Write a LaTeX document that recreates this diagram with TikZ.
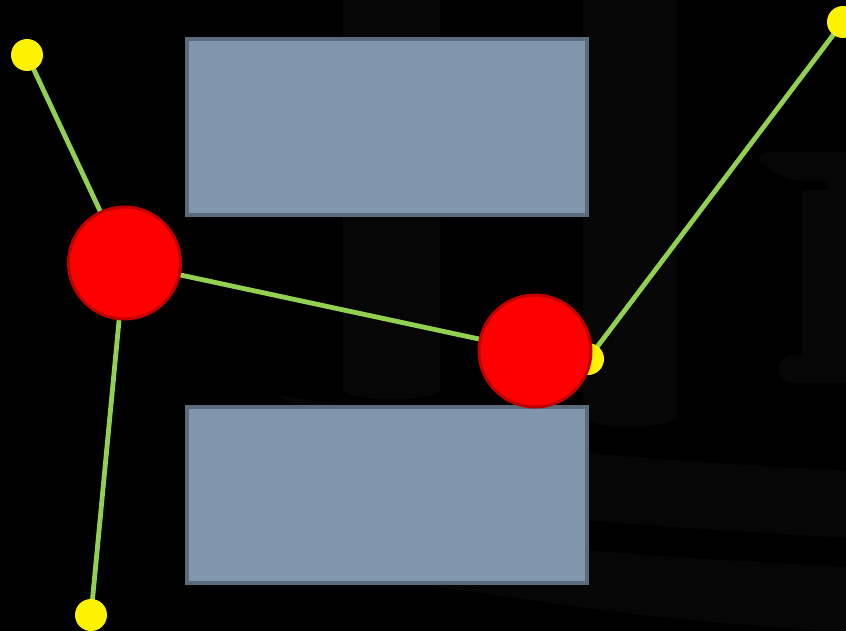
\documentclass[tikz,border=0pt]{standalone}
\pgfdeclarelayer{bg}
\pgfdeclarelayer{lines}
\pgfsetlayers{bg,lines,main}
\definecolor{faint}{RGB}{6,6,6}
\definecolor{boxfill}{RGB}{127,150,173}
\definecolor{boxline}{RGB}{91,107,123}
\definecolor{linkgreen}{RGB}{146,208,80}
\definecolor{darkred}{RGB}{192,0,0}
\tikzset{
  box/.style={draw=boxline, line width=4pt, fill=boxfill},
  bigatom/.style={circle, fill=red, draw=darkred, line width=3pt, minimum size=112pt, inner sep=0pt},
  smallatom/.style={circle, fill=yellow, draw=none, minimum size=32pt, inner sep=0pt},
  link/.style={draw=linkgreen, line width=4.8pt},
  ghost/.style={fill=faint, draw=none}
}
\begin{document}
\begin{tikzpicture}[x=1pt, y=-1pt]
\useasboundingbox (0,0) rectangle (846,631);
\begin{pgfonlayer}{bg}
  \clip (0,0) rectangle (846,631);
  \fill[black] (0,0) rectangle (846,631);
  % faint background scenery
  \path[ghost] (343,-2) -- (343,390) arc[start angle=180, end angle=0, x radius=48.5, y radius=9] -- (440,-2) -- cycle;
  \path[ghost] (583,-2) -- (583,415) arc[start angle=180, end angle=0, x radius=47, y radius=12] -- (677,-2) -- cycle;
  \path[ghost] (850,152) -- (768,152) .. controls (756,153) and (757,162) .. (766,167)
     .. controls (776,174) and (788,180) .. (800,181) -- (822,181)
     .. controls (830,182) and (830,192) .. (822,193) -- (850,193) -- cycle;
  \path[ghost] (802,190) rectangle (850,358);
  \path[ghost] (850,355) -- (792,355) .. controls (774,356) and (774,382) .. (792,383) -- (850,383) -- cycle;
  \path[ghost] (275,394) .. controls (400,415) and (520,444) .. (586,453)
     .. controls (700,463) and (780,467) .. (850,471) -- (850,538)
     .. controls (750,532) and (650,526) .. (586,520)
     .. controls (450,500) and (330,420) .. cycle;
  \path[ghost] (850,567) .. controls (750,562) and (650,556) .. (586,550)
     .. controls (500,540) and (420,530) .. (350,520) -- (350,580) -- (430,585)
     .. controls (500,596) and (560,604) .. (600,610)
     .. controls (700,622) and (780,628) .. (850,633) -- cycle;
\end{pgfonlayer}

\path[box] (187,39) rectangle (587,215);
\path[box] (187,407) rectangle (587,583);

\node[smallatom] (y1) at (27,55) {};
\node[smallatom] (y2) at (843,22) {};
\node[smallatom] (y3) at (91,615) {};
\node[smallatom] (y4) at (588,359) {};
\node[bigatom] (r1) at (124.5,263) {};
\node[bigatom] (r2) at (535,351) {};

\begin{pgfonlayer}{lines}
  \draw[link] (y1.center) -- (r1.center);
  \draw[link] (r1.center) -- (r2.center);
  \draw[link] (r1.center) -- (y3.center);
  \draw[link] (y4.center) -- (y2.center);
\end{pgfonlayer}
\end{tikzpicture}
\end{document}
